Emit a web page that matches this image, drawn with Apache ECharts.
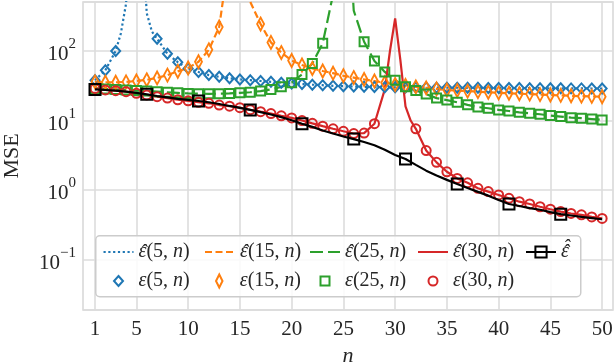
<!DOCTYPE html>
<html>
<head>
<meta charset="utf-8">
<script src="https://cdn.jsdelivr.net/npm/echarts@6/dist/echarts.min.js"></script>
<style>
  html, body { margin: 0; padding: 0; background: #fff; }
  #chart { width: 616px; height: 364px; }
</style>
</head>
<body>
<div id="chart"></div>
<script>
// sample size n
const nValues = [1, 2, 3, 4, 5, 6, 7, 8, 9, 10, 11, 12, 13, 14, 15, 16, 17, 18, 19, 20,
  21, 22, 23, 24, 25, 26, 27, 28, 29, 30, 31, 32, 33, 34, 35, 36, 37, 38, 39, 40,
  41, 42, 43, 44, 45, 46, 47, 48, 49, 50];
const xTicks = [1, 5, 10, 15, 20, 25, 30, 35, 40, 45, 50];

// empirical MSE (markers), null = off the chart
const eps5 = [38, 53, 100, null, null, null, 150, 91, 69, 56, 50, 45, 42.5, 40.5, 39, 38, 37, 36, 35, 34.2,
  33.5, 32.8, 32.2, 31.6, 31.2, 30.8, 30.5, 30.3, 30.1, 30, 29.9, 29.8, 29.8, 29.7, 29.6, 29.6, 29.5, 29.5, 29.4, 29.4,
  29.3, 29.3, 29.2, 29.2, 29.1, 29.1, 29, 29, 28.9, 28.9];
const eps15 = [36, 35.5, 35.5, 36, 37, 38.5, 41, 45, 51, 57, 70, 104, 222, null, null, null, 244, 133, 95, 73,
  63, 56, 51.5, 48, 44, 41.5, 39, 37, 35, 33, 32, 30.5, 29.5, 28.5, 27.5, 27, 26.5, 26, 25.5, 25,
  24.7, 24.3, 24, 23.6, 23.3, 23, 22.7, 22.4, 22.2, 22];
const eps25 = [29, 28.5, 28, 27.5, 27, 26.5, 26, 25.5, 25, 24.5, 24.3, 24.2, 24.3, 24.5, 25, 25.5, 26.5, 28, 30.5, 35,
  46, 66, 129, null, null, null, 136, 72, 50, 38, 30.5, 27, 24, 21, 19.7, 18.3, 16.8, 15.6, 15, 14.2,
  13.7, 13.1, 12.7, 12.3, 11.8, 11.4, 11, 10.8, 10.5, 10.2];
const eps30 = [29, 27.5, 26.9, 26, 24.6, 23.3, 22, 21, 19.9, 19.2, 18.3, 17.7, 16.7, 16.1, 15.3, 14.3, 13.4, 12.6, 11.7, 10.9,
  10, 9.1, 8.3, 7.6, 7.0, 6.5, 6.6, 9.0, null, null, null, 7.6, 3.7, 2.5, 1.83, 1.47, 1.27, 1.06, 0.95, 0.85,
  0.76, 0.68, 0.63, 0.575, 0.53, 0.49, 0.46, 0.44, 0.41, 0.39];

// predicted MSE (lines); huge values at the poles run off the top
const hat5 = [38, 53, 100, 480, 1e5, 350, 150, 91, 69, 56, 50, 45, 42.5, 40.5, 39, 38, 37, 36, 35, 34.2,
  33.5, 32.8, 32.2, 31.6, 31.2, 30.8, 30.5, 30.3, 30.1, 30, 29.9, 29.8, 29.8, 29.7, 29.6, 29.6, 29.5, 29.5, 29.4, 29.4,
  29.3, 29.3, 29.2, 29.2, 29.1, 29.1, 29, 29, 28.9, 28.9];
const hat5Extra = [[3.5, 180], [6.5, 190]];
const hat15 = [36, 35.5, 35.5, 36, 37, 38.5, 41, 45, 51, 57, 70, 104, 222, 2500, 1e5, 510, 244, 133, 95, 73,
  63, 56, 51.5, 48, 44, 41.5, 39, 37, 35, 33, 32, 30.5, 29.5, 28.5, 27.5, 27, 26.5, 26, 25.5, 25,
  24.7, 24.3, 24, 23.6, 23.3, 23, 22.7, 22.4, 22.2, 22];
const hat25 = [29, 28.5, 28, 27.5, 27, 26.5, 26, 25.5, 25, 24.5, 24.3, 24.2, 24.3, 24.5, 25, 25.5, 26.5, 28, 30.5, 35,
  46, 66, 129, 650, 1e5, 380, 136, 72, 50, 38, 30.5, 27, 24, 21, 19.7, 18.3, 16.8, 15.6, 15, 14.2,
  13.7, 13.1, 12.7, 12.3, 11.8, 11.4, 11, 10.8, 10.5, 10.2];
const hat30 = [29, 27.5, 26.9, 26, 24.6, 23.3, 22, 21, 19.9, 19.2, 18.3, 17.7, 16.7, 16.1, 15.3, 14.3, 13.4, 12.6, 11.7, 10.9,
  10, 9.1, 8.3, 7.6, 7.0, 6.5, 6.6, 9.0, 28, 295, 16, 7.6, 3.7, 2.5, 1.83, 1.47, 1.27, 1.06, 0.95, 0.85,
  0.76, 0.68, 0.63, 0.575, 0.53, 0.49, 0.46, 0.44, 0.41, 0.39];
const hat30Extra = [[29.5, 100], [30.5, 75], [31.5, 10]];

// double-hat estimate, square marker every 5th n
const hatHat = [28, 27.5, 27, 26, 25, 23.8, 22.5, 21.5, 20.5, 19.8, 19.1, 18.3, 17.3, 16.2, 15.2, 14.2, 13.2, 12.2, 11.2, 10.1,
  9.0, 8.1, 7.2, 6.5, 5.9, 5.4, 4.9, 4.4, 3.8, 3.2, 2.8, 2.3, 1.9, 1.62, 1.4, 1.22, 1.07, 0.94, 0.83, 0.72,
  0.63, 0.59, 0.55, 0.52, 0.48, 0.45, 0.43, 0.41, 0.395, 0.38];
const hatHatMarkN = [1, 6, 11, 16, 21, 26, 31, 36, 41, 46];

const FONT = 'Liberation Serif';
const TXT = '#262626';
const BLUE = '#1f77b4', ORANGE = '#ff7f0e', GREEN = '#2ca02c', RED = '#d62728';
const LEG_FS = 20;

const toPoints = (vals, extra) => nValues
  .map((n, i) => [n, vals[i]])
  .filter(p => p[1] != null)
  .concat(extra || [])
  .sort((a, b) => a[0] - b[0]);

const hatLine = (name, vals, extra, color, dash, width) => ({
  name, type: 'line', data: toPoints(vals, extra), symbol: 'none', z: 2,
  lineStyle: { color, width, type: dash, cap: 'butt' },
  itemStyle: { color }
});

const marks = (name, vals, color, symbol, size) => ({
  name, type: 'scatter', data: toPoints(vals), symbol, symbolSize: size, z: 3,
  itemStyle: { color: 'rgba(255,255,255,0)', borderColor: color, borderWidth: 2, opacity: 1 }
});

const THIN_DIAMOND = 'path://M3,0L6,6L3,12L0,6Z';

// hats are drawn on top as separate text (see hatMark)
const labels = {
  hat5: '{g|ε}{r|(5,}{i| n}{r|)}',
  hat15: '{g|ε}{r|(15,}{i| n}{r|)}',
  hat25: '{g|ε}{r|(25,}{i| n}{r|)}',
  hat30: '{g|ε}{r|(30,}{i| n}{r|)}',
  hathat: '{g|ε}',
  eps5: '{g|ε}{r|(5,}{i| n}{r|)}',
  eps15: '{g|ε}{r|(15,}{i| n}{r|)}',
  eps25: '{g|ε}{r|(25,}{i| n}{r|)}',
  eps30: '{g|ε}{r|(30,}{i| n}{r|)}'
};

const rich = {
  g: { fontFamily: FONT, fontStyle: 'italic', fontSize: LEG_FS, color: TXT, lineHeight: 24 },
  r: { fontFamily: FONT, fontSize: LEG_FS, color: TXT, lineHeight: 24 },
  i: { fontFamily: FONT, fontStyle: 'italic', fontSize: LEG_FS, color: TXT, lineHeight: 24 }
};

// one legend per slot so the two rows line up in columns
const legendAt = (name, left, top, w, h, padLeft, hideSymbol) => ({
  data: [name], left, top, padding: 0, itemWidth: w, itemHeight: h,
  selectedMode: false,
  formatter: n => labels[n],
  textStyle: { rich, padding: [0, 0, 0, padLeft] },
  itemStyle: hideSymbol ? { opacity: 0 } : {}
});

const ROW1 = 242, ROW2 = 271;
const textX = [137.5, 239, 344, 452, 560];

const hatMark = (x, y) => ({
  type: 'text', x, y, z: 20,
  style: { text: '\u02c6', font: 'italic ' + LEG_FS + 'px ' + FONT, fill: TXT, align: 'center', verticalAlign: 'middle' }
});

const chart = echarts.init(document.getElementById('chart'));
chart.setOption({
  animation: false,
  backgroundColor: '#fff',
  grid: {
    left: 83, right: 3, top: 2, bottom: 54, outerBoundsMode: 'none',
    show: true, borderColor: '#d6d6d6', borderWidth: 1.5
  },
  graphic: [
    {
      type: 'rect', left: 95, top: 235, z: 3,
      shape: { width: 485, height: 61, r: 4 },
      style: { fill: 'rgba(255,255,255,0.85)', stroke: '#cccccc', lineWidth: 1.5 }
    },
    hatMark(textX[0] + 6, ROW1 + 12),
    hatMark(textX[1] + 6, ROW1 + 12),
    hatMark(textX[2] + 6, ROW1 + 12),
    hatMark(textX[3] + 6, ROW1 + 12),
    hatMark(textX[4] + 6, ROW1 + 12),
    hatMark(textX[4] + 6.5, ROW1 + 7)
  ],
  legend: [
    legendAt('hat5', textX[0] - 35, ROW1, 30, 14, 0, true),
    legendAt('hat15', textX[1] - 35, ROW1, 30, 14, 0, true),
    legendAt('hat25', textX[2] - 35, ROW1, 30, 14, 0, true),
    legendAt('hat30', textX[3] - 35, ROW1, 30, 14, 0, true),
    legendAt('hathat', textX[4] - 35, ROW1, 30, 14, 0, false),
    legendAt('eps5', textX[0] - 24.5, ROW2, 9, 10, 10.5, false),
    legendAt('eps15', textX[1] - 24, ROW2, 7, 13, 12, false),
    legendAt('eps25', textX[2] - 24.5, ROW2, 9, 9, 10.5, false),
    legendAt('eps30', textX[3] - 24.5, ROW2, 9, 9, 10.5, false)
  ],
  xAxis: {
    type: 'value', min: -0.16, max: 51.05,
    axisLine: { show: false },
    axisTick: { show: false, customValues: xTicks },
    axisLabel: { customValues: xTicks, fontFamily: FONT, fontSize: 21, color: TXT, margin: 9 },
    splitLine: { show: true, lineStyle: { color: '#dcdcdc', width: 1.6 } },
    name: 'n', nameLocation: 'middle', nameGap: 33,
    nameTextStyle: { fontFamily: FONT, fontStyle: 'italic', fontSize: 22, color: TXT }
  },
  yAxis: {
    type: 'log', logBase: 10, min: 0.0188, max: 507,
    axisLine: { show: false },
    axisTick: { show: false },
    axisLabel: {
      margin: 7,
      formatter: v => {
        const e = Math.log10(v);
        if (Math.abs(e - Math.round(e)) > 1e-6) return '';
        const k = Math.round(e);
        return '{b|10}{s|' + (k < 0 ? '\u2212' + (-k) : k) + '}';
      },
      rich: {
        b: { fontFamily: FONT, fontSize: 21, color: TXT, lineHeight: 28, verticalAlign: 'bottom' },
        s: { fontFamily: FONT, fontSize: 15, color: TXT, lineHeight: 16, verticalAlign: 'top' }
      }
    },
    splitLine: { show: true, lineStyle: { color: '#dcdcdc', width: 1.6 } },
    name: 'MSE', nameLocation: 'middle', nameGap: 60, nameRotate: 90,
    nameTextStyle: { fontFamily: FONT, fontSize: 22, color: TXT }
  },
  series: [
    hatLine('hat5', hat5, hat5Extra, BLUE, [2.2, 2.6], 2.2),
    hatLine('hat15', hat15, null, ORANGE, [7, 3.5], 2.2),
    hatLine('hat25', hat25, null, GREEN, [13, 5], 2.2),
    hatLine('hat30', hat30, hat30Extra, RED, 'solid', 2.2),
    marks('eps5', eps5, BLUE, 'diamond', [9, 10]),
    marks('eps15', eps15, ORANGE, THIN_DIAMOND, [7, 13]),
    marks('eps25', eps25, GREEN, 'rect', 9),
    marks('eps30', eps30, RED, 'circle', 9),
    {
      name: 'hathat', type: 'line', z: 4, symbol: 'rect', symbolSize: 11, showAllSymbol: true,
      data: nValues.map((n, i) => ({
        value: [n, hatHat[i]],
        symbol: hatHatMarkN.indexOf(n) >= 0 ? 'rect' : 'none'
      })),
      lineStyle: { color: '#000', width: 2.2 },
      itemStyle: { color: 'rgba(255,255,255,0)', borderColor: '#000', borderWidth: 2 }
    }
  ]
});
</script>
</body>
</html>
